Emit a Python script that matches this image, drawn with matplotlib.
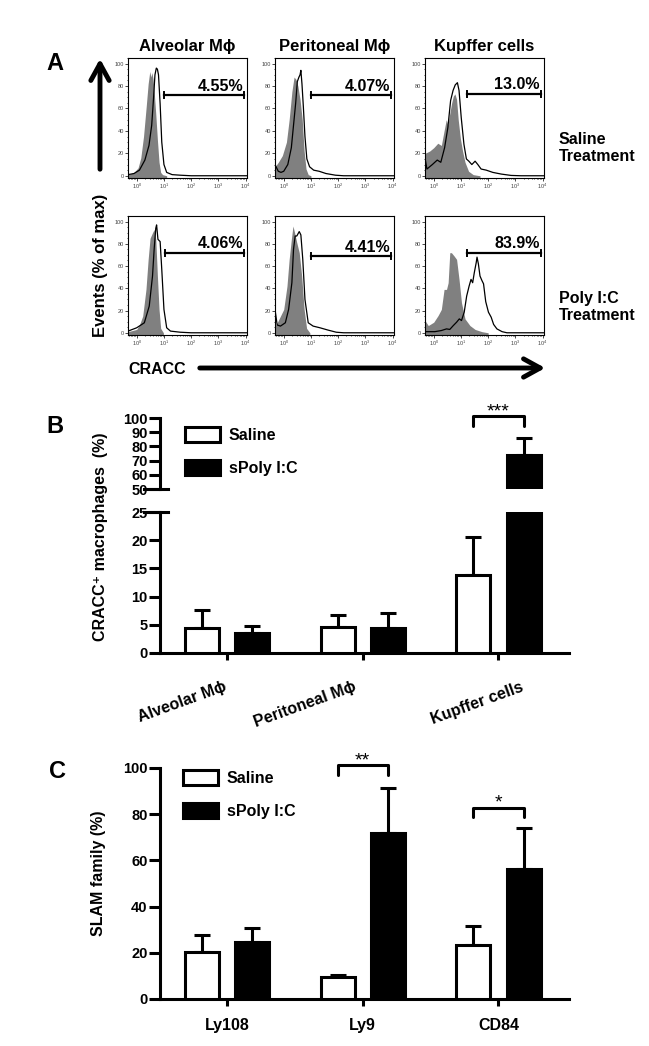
import numpy as np
import matplotlib.pyplot as plt
from matplotlib.patches import Patch
from matplotlib.ticker import MultipleLocator
from matplotlib.transforms import ScaledTranslation

plt.rcParams['font.family'] = ['Liberation Sans', 'DejaVu Sans']
plt.rcParams['font.weight'] = 'bold'
plt.rcParams['mathtext.default'] = 'regular'

# ---- panel A: flow histograms (x in log10 units, y in % of max) ----
alv_sal_iso_logx = [-0.32, -0.1, 0.05, 0.15, 0.25, 0.35, 0.42, 0.48, 0.52, 0.56, 0.6, 0.65, 0.7, 0.76, 0.82, 0.88, 0.95, 1.1]
alv_sal_iso_y = [1, 3, 7, 16, 35, 62, 82, 93, 88, 92, 86, 72, 55, 32, 12, 3, 1, 0]
alv_sal_cracc_logx = [-0.32, -0.1, 0.1, 0.3, 0.45, 0.55, 0.62, 0.67, 0.72, 0.76, 0.8, 0.86, 0.92, 1.0, 1.1, 1.3, 1.6, 2.0, 4.05]
alv_sal_cracc_y = [1, 2, 5, 14, 27, 45, 70, 90, 96, 95, 90, 64, 30, 10, 3, 1, 0.5, 0, 0]

per_sal_iso_logx = [-0.32, -0.2, -0.05, 0.1, 0.2, 0.3, 0.38, 0.45, 0.52, 0.6, 0.68, 0.75, 0.82, 0.9, 1.0]
per_sal_iso_y = [8, 12, 18, 30, 50, 75, 88, 86, 80, 68, 50, 22, 6, 1, 0]
per_sal_cracc_logx = [-0.32, -0.2, -0.1, 0.0, 0.15, 0.28, 0.36, 0.44, 0.5, 0.56, 0.6, 0.63, 0.67, 0.72, 0.78, 0.85, 0.95, 1.1, 1.3, 1.55, 1.9, 2.2, 4.05]
per_sal_cracc_y = [10, 4, 3, 4, 10, 25, 45, 65, 84, 88, 90, 94, 82, 62, 35, 15, 8, 5, 4, 2, 0.5, 0, 0]

kup_sal_iso_logx = [-0.32, -0.15, 0.0, 0.15, 0.28, 0.38, 0.46, 0.52, 0.6, 0.66, 0.72, 0.78, 0.84, 0.9, 0.98, 1.06, 1.15, 1.28, 1.45, 1.7]
kup_sal_iso_y = [20, 22, 25, 29, 27, 40, 50, 45, 57, 65, 71, 73, 68, 50, 33, 22, 12, 4, 1, 0]
kup_sal_cracc_logx = [-0.32, -0.25, -0.05, 0.13, 0.26, 0.4, 0.52, 0.62, 0.71, 0.79, 0.87, 0.93, 1.01, 1.11, 1.2, 1.29, 1.4, 1.52, 1.62, 1.74, 1.93, 2.17, 2.48, 2.84, 3.2, 4.05]
kup_sal_cracc_y = [16, 6, 10, 14, 12, 25, 43, 67, 76, 81, 83, 76, 52, 28, 15, 13, 10, 13, 10, 6, 5, 3, 1.5, 0.3, 0, 0]

alv_poly_iso_logx = [-0.32, 0.0, 0.1, 0.22, 0.34, 0.42, 0.49, 0.58, 0.64, 0.7, 0.76, 0.82, 0.88, 0.98]
alv_poly_iso_y = [1, 3, 7, 15, 39, 66, 85, 90, 93, 84, 51, 21, 4, 0]
alv_poly_cracc_logx = [-0.32, 0.0, 0.28, 0.46, 0.58, 0.64, 0.7, 0.73, 0.78, 0.86, 0.92, 1.0, 1.1, 1.24, 1.6, 2.0, 4.05]
alv_poly_cracc_y = [1.5, 4.5, 9, 24, 51, 75, 94, 97, 84, 82, 57, 21, 4.5, 1.5, 0.5, 0, 0]

per_poly_iso_logx = [-0.32, -0.24, -0.12, 0.0, 0.12, 0.2, 0.28, 0.34, 0.4, 0.48, 0.57, 0.66, 0.75, 0.84, 0.96]
per_poly_iso_y = [6, 9, 15, 21, 42, 66, 84, 96, 90, 81, 72, 51, 21, 4, 0]
per_poly_cracc_logx = [-0.32, -0.24, -0.12, 0.06, 0.18, 0.3, 0.36, 0.42, 0.48, 0.57, 0.63, 0.7, 0.78, 0.9, 1.08, 1.33, 1.63, 1.93, 2.2, 4.05]
per_poly_cracc_y = [21, 7, 6, 9, 21, 45, 75, 87, 87, 91, 88, 66, 30, 9, 6, 4.5, 2.4, 0.5, 0, 0]

kup_poly_iso_logx = [-0.32, -0.2, 0.0, 0.16, 0.28, 0.38, 0.47, 0.53, 0.59, 0.65, 0.75, 0.84, 0.93, 1.02, 1.15, 1.33, 1.52, 1.77, 2.0]
kup_poly_iso_y = [11, 6.5, 9.5, 15.5, 21, 39, 39, 45, 72, 72, 69, 66, 48, 27, 12.5, 6.5, 3, 1, 0]
kup_poly_cracc_logx = [-0.32, 0.04, 0.28, 0.47, 0.59, 0.72, 0.84, 0.94, 1.02, 1.12, 1.21, 1.3, 1.37, 1.43, 1.49, 1.56, 1.59, 1.64, 1.7, 1.77, 1.83, 1.91, 2.01, 2.11, 2.2, 2.32, 2.51, 2.69, 4.05]
kup_poly_cracc_y = [1, 1, 2, 3.5, 3, 6.5, 9.5, 12.5, 11, 18.5, 33, 42, 48, 45, 54, 63, 68, 62, 51, 47, 44, 28, 18.5, 14, 7.5, 3.5, 1, 0, 0]

hist_titles = ['Alveolar M\u03d5', 'Peritoneal M\u03d5', 'Kupffer cells']
gate_logx_lo = [1.0, 0.99, 1.23, 1.04, 0.99, 1.21]
gate_y = [72, 72, 73, 72, 69, 72]
gate_pct = ['4.55%', '4.07%', '13.0%', '4.06%', '4.41%', '83.9%']

# ---- panel B ----
cats_b = ['Alveolar M\u03d5', 'Peritoneal M\u03d5', 'Kupffer cells']
b_saline = [4.4, 4.6, 13.8]
b_saline_err = [3.2, 2.1, 6.8]
b_poly = [3.5, 4.4, 74.0]
b_poly_err = [1.3, 2.7, 12.0]

# ---- panel C ----
cats_c = ['Ly108', 'Ly9', 'CD84']
c_saline = [20.3, 9.5, 23.4]
c_saline_err = [7.4, 0.8, 8.2]
c_poly = [24.7, 71.9, 56.3]
c_poly_err = [6.0, 19.4, 17.7]

W, H = 649, 1046
fig = plt.figure(figsize=(W / 100, H / 100), dpi=100)


def rect(x0, y0, x1, y1):
    return [x0 / W, 1 - y1 / H, (x1 - x0) / W, (y1 - y0) / H]


hists = [
    (alv_sal_iso_logx, alv_sal_iso_y, alv_sal_cracc_logx, alv_sal_cracc_y),
    (per_sal_iso_logx, per_sal_iso_y, per_sal_cracc_logx, per_sal_cracc_y),
    (kup_sal_iso_logx, kup_sal_iso_y, kup_sal_cracc_logx, kup_sal_cracc_y),
    (alv_poly_iso_logx, alv_poly_iso_y, alv_poly_cracc_logx, alv_poly_cracc_y),
    (per_poly_iso_logx, per_poly_iso_y, per_poly_cracc_logx, per_poly_cracc_y),
    (kup_poly_iso_logx, kup_poly_iso_y, kup_poly_cracc_logx, kup_poly_cracc_y),
]
box_x = [(128, 247), (275, 394), (425, 544)]
box_y = [(58, 178), (216, 335)]

for i, (gx, gy, lx, ly) in enumerate(hists):
    r, c = divmod(i, 3)
    ax = fig.add_axes(rect(box_x[c][0], box_y[r][0], box_x[c][1], box_y[r][1]))
    ax.fill_between(10 ** np.array(gx), gy, -2, color='#808080', lw=0)
    ax.plot(10 ** np.array(lx), ly, color='black', lw=0.9)
    ax.set_xscale('log')
    ax.set_xlim(10 ** -0.32, 10 ** 4.05)
    ax.set_ylim(-2, 105)
    ax.set_xticks([1, 10, 100, 1000, 10000])
    ax.set_xticklabels([r'$10^{%d}$' % k for k in range(5)])
    ax.set_yticks(range(0, 101, 20))
    ax.yaxis.set_minor_locator(MultipleLocator(5))
    ax.tick_params(which='both', labelsize=4, length=2, width=0.5, pad=1,
                   labelcolor='#444444')
    ax.tick_params(which='minor', length=1)
    for lbl in ax.get_xticklabels() + ax.get_yticklabels():
        lbl.set_fontweight('normal')
    for s in ax.spines.values():
        s.set_linewidth(0.8)
    # gate
    g0 = 10 ** gate_logx_lo[i]
    g1 = 10 ** 3.95
    gy0 = gate_y[i]
    ax.plot([g0, g1], [gy0, gy0], color='black', lw=1.6)
    ax.plot([g0, g0], [gy0 - 2.7, gy0 + 2.7], color='black', lw=1.4)
    ax.plot([g1, g1], [gy0 - 2.7, gy0 + 2.7], color='black', lw=1.4)
    ax.text(10 ** 3.9, gy0 + 4, gate_pct[i], ha='right', va='baseline',
            fontsize=11.5, fontweight='bold')
    if r == 0:
        ax.set_title(hist_titles[c], fontsize=12, fontweight='bold', pad=5)

fig.text(55 / W, 1 - 63 / H, 'A', fontsize=17, fontweight='bold', ha='center', va='center')
fig.text(559 / W, 1 - 148 / H, 'Saline\nTreatment', fontsize=11.5, fontweight='bold',
         ha='left', va='center', linespacing=1.15)
fig.text(559 / W, 1 - 307 / H, 'Poly I:C\nTreatment', fontsize=11.5, fontweight='bold',
         ha='left', va='center', linespacing=1.15)
fig.text(100 / W, 1 - 265 / H, 'Events (% of max)', fontsize=12, fontweight='bold',
         rotation=90, ha='center', va='center')
fig.text(128 / W, 1 - 369 / H, 'CRACC', fontsize=11.5, fontweight='bold',
         ha='left', va='center')
fig.add_artist(plt.matplotlib.patches.FancyArrowPatch(
    (100 / W, 1 - 172 / H), (100 / W, 1 - 56 / H), transform=fig.transFigure,
    arrowstyle='->,head_length=0.6,head_width=0.33', mutation_scale=20,
    lw=3.5, color='black'))
fig.add_artist(plt.matplotlib.patches.FancyArrowPatch(
    (197 / W, 1 - 368 / H), (548 / W, 1 - 368 / H), transform=fig.transFigure,
    arrowstyle='->,head_length=0.6,head_width=0.33', mutation_scale=20,
    lw=3.5, color='black'))

# ---- bar charts ----
LW = 2.2
off = 0.185
width = 0.25


def bars(ax, x, sal, sal_err, poly, poly_err):
    ax.bar(x - off, sal, width, color='white', edgecolor='black', lw=LW, zorder=3)
    ax.bar(x + off, poly, width, color='black', edgecolor='black', lw=LW, zorder=3)
    ax.errorbar(x - off, sal, yerr=[np.zeros(len(x)), sal_err], fmt='none',
                ecolor='black', elinewidth=LW, capsize=6, capthick=LW, zorder=2)
    ax.errorbar(x + off, poly, yerr=[np.zeros(len(x)), poly_err], fmt='none',
                ecolor='black', elinewidth=LW, capsize=6, capthick=LW, zorder=2)
    ax.set_xlim(-0.494, 2.52)
    for s in ['top', 'right']:
        ax.spines[s].set_visible(False)
    for s in ['left', 'bottom']:
        ax.spines[s].set_linewidth(LW)
    ax.tick_params(axis='y', length=8, width=LW, pad=1, labelsize=10.5)
    ax.tick_params(axis='x', length=5, width=LW, labelsize=11.5)


def bracket(ax, x0, x1, ytop, ylow, stars):
    ax.plot([x0, x0, x1, x1], [ylow, ytop, ytop, ylow], color='black', lw=LW,
            clip_on=False, solid_capstyle='round', solid_joinstyle='round')
    ax.text((x0 + x1) / 2, ytop, stars, ha='center', va='baseline', fontsize=14,
            fontweight='normal', clip_on=False)


def legend(ax, xpx, ypx):
    handles = [Patch(facecolor='white', edgecolor='black', lw=LW, label='Saline'),
               Patch(facecolor='black', edgecolor='black', lw=LW, label='sPoly I:C')]
    ax.legend(handles=handles, loc='upper left', bbox_to_anchor=(xpx / W, 1 - ypx / H),
              bbox_transform=fig.transFigure, frameon=False, borderpad=0,
              borderaxespad=0, handlelength=2.2, handleheight=1.1,
              handletextpad=0.55, labelspacing=1.05,
              prop={'weight': 'bold', 'size': 11.5})


xb = np.arange(len(cats_b))
axb_top = fig.add_axes(rect(160, 418, 569, 489))
axb_bot = fig.add_axes(rect(160, 512, 569, 653))
for ax in (axb_top, axb_bot):
    bars(ax, xb, b_saline, b_saline_err, b_poly, b_poly_err)
axb_top.set_ylim(50, 100)
axb_top.set_yticks(range(50, 101, 10))
axb_top.spines['bottom'].set_visible(False)
axb_top.set_xticks([])
axb_bot.set_ylim(0, 25)
axb_bot.set_yticks(range(0, 26, 5))
axb_bot.set_xticks(xb)
axb_bot.set_xticklabels(cats_b, rotation=20, ha='right', rotation_mode='anchor')
axb_bot.tick_params(axis='x', pad=14)
for lbl, dx in zip(axb_bot.get_xticklabels(), [-4, -10, 22]):
    lbl.set_transform(lbl.get_transform() + ScaledTranslation(dx / 100, 0, fig.dpi_scale_trans))
# break marks on the axis ends
axb_top.plot([-0.04, 0.02], [50, 50], color='black', lw=LW,
             transform=axb_top.get_yaxis_transform(), clip_on=False)
axb_bot.plot([-0.04, 0.02], [25, 25], color='black', lw=LW,
             transform=axb_bot.get_yaxis_transform(), clip_on=False)
bracket(axb_top, 2 - off, 2 + off, 101.4, 94.4, '***')
legend(axb_top, 185, 427)
fig.text(100 / W, 1 - 537 / H, 'CRACC\u207a macrophages  (%)', fontsize=11.5,
         fontweight='bold', rotation=90, ha='center', va='center')
fig.text(55 / W, 1 - 427 / H, 'B', fontsize=17, fontweight='bold', ha='center', va='center')

xc = np.arange(len(cats_c))
axc = fig.add_axes(rect(160, 768, 569, 999))
bars(axc, xc, c_saline, c_saline_err, c_poly, c_poly_err)
axc.set_ylim(0, 100)
axc.set_yticks(range(0, 101, 20))
axc.set_xticks(xc)
axc.set_xticklabels(cats_c)
axc.tick_params(axis='x', pad=9)
bracket(axc, 1 - off, 1 + off, 101.3, 97, '**')
bracket(axc, 2 - off, 2 + off, 82.7, 78.8, '*')
legend(axc, 183, 770)
fig.text(98 / W, 1 - 873 / H, 'SLAM family (%)', fontsize=11.5,
         fontweight='bold', rotation=90, ha='center', va='center')
fig.text(57 / W, 1 - 772 / H, 'C', fontsize=17, fontweight='bold', ha='center', va='center')

fig.savefig('out.png', dpi=100)
